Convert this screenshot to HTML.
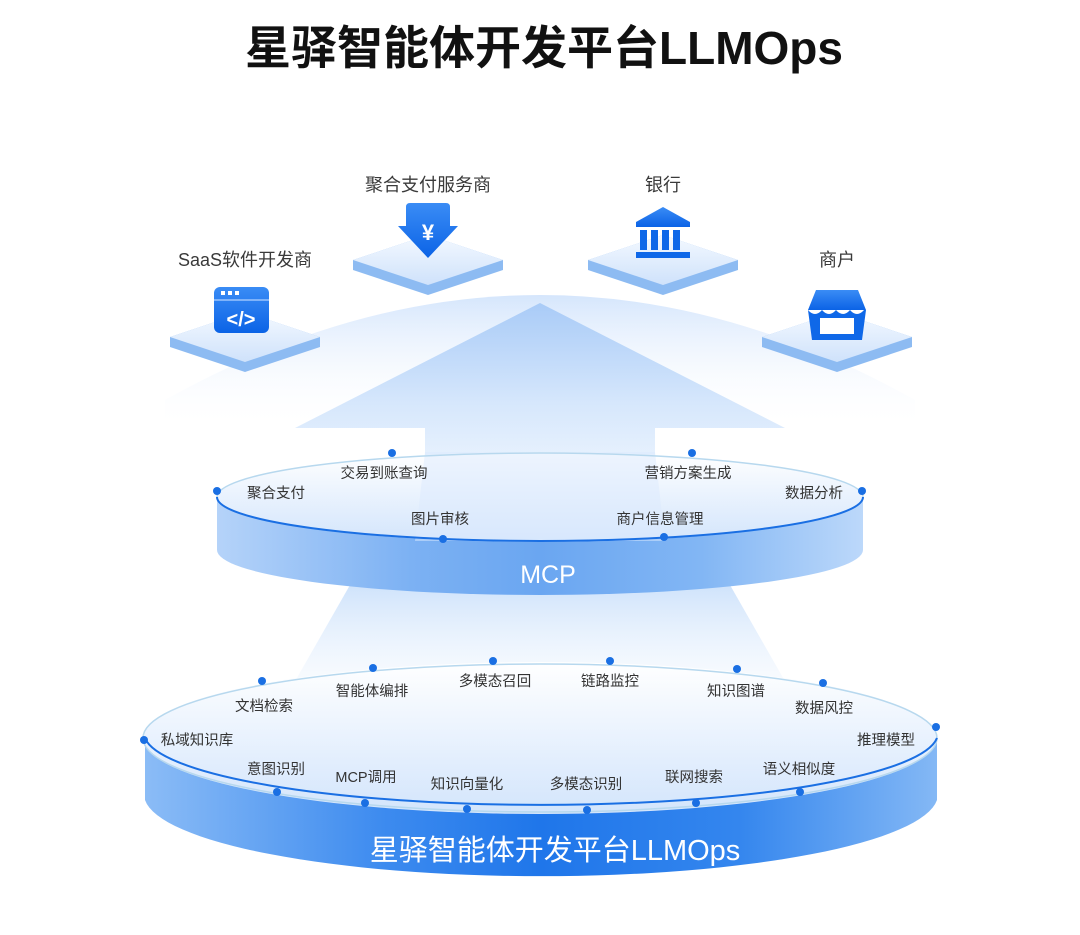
<!DOCTYPE html>
<html><head><meta charset="utf-8"><style>
html,body{margin:0;padding:0;background:#fff;}
svg{display:block;}
text{font-family:"Liberation Sans","Noto Sans CJK SC",sans-serif;}
</style></head><body>
<svg width="1080" height="935" viewBox="0 0 1080 935" xmlns="http://www.w3.org/2000/svg">
<defs>
<linearGradient id="fan" x1="0" y1="0" x2="0" y2="1">
<stop offset="0" stop-color="#c3dbfb"/><stop offset="1" stop-color="#ffffff" stop-opacity="0"/></linearGradient>
<linearGradient id="arrow" x1="0" y1="0" x2="0" y2="1">
<stop offset="0" stop-color="#a9cbf7"/><stop offset="0.6" stop-color="#d6e7fc"/><stop offset="1" stop-color="#eaf3fe"/></linearGradient>
<linearGradient id="side1" x1="0" y1="0" x2="1" y2="0">
<stop offset="0" stop-color="#b5d3f9"/><stop offset="0.3" stop-color="#7cb1f3"/><stop offset="0.5" stop-color="#6aa6f1"/><stop offset="0.75" stop-color="#82b6f4"/><stop offset="1" stop-color="#bcd8fa"/></linearGradient>
<linearGradient id="side2" x1="0" y1="0" x2="1" y2="0">
<stop offset="0" stop-color="#8bbcf6"/><stop offset="0.3" stop-color="#3d8bef"/><stop offset="0.5" stop-color="#1f76ea"/><stop offset="0.75" stop-color="#3486ee"/><stop offset="1" stop-color="#84b8f5"/></linearGradient>
<linearGradient id="top" x1="0" y1="0" x2="0" y2="1">
<stop offset="0" stop-color="#ffffff"/><stop offset="1" stop-color="#d3e5fc"/></linearGradient>
<linearGradient id="mid" x1="0" y1="0" x2="0" y2="1">
<stop offset="0" stop-color="#cfe3fb"/><stop offset="1" stop-color="#eef5fe" stop-opacity="0.3"/></linearGradient>
<linearGradient id="tileTop" x1="0" y1="0" x2="0" y2="1">
<stop offset="0" stop-color="#f4f9ff"/><stop offset="1" stop-color="#cfe2fb"/></linearGradient>
<linearGradient id="icon" x1="0" y1="0" x2="0" y2="1">
<stop offset="0" stop-color="#3a8cf5"/><stop offset="1" stop-color="#0b63e6"/></linearGradient>
</defs>

<text x="544" y="64" text-anchor="middle" font-size="46" font-weight="bold" fill="#111">星驿智能体开发平台LLMOps</text>

<path d="M165 400 Q540 190 915 400 L915 430 L165 430 Z" fill="url(#fan)" opacity="0.7"/>

<path d="M540 303 L785 428 L655 428 L655 470 L425 470 L425 428 L295 428 Z" fill="url(#arrow)"/>

<path d="M170 337 L245 312 L320 337 L320 347 L245 372 L170 347 Z" fill="#8dbbf2"/>
<path d="M170 337 L245 312 L320 337 L245 362 Z" fill="url(#tileTop)"/>
<path d="M353 260 L428 235 L503 260 L503 270 L428 295 L353 270 Z" fill="#8dbbf2"/>
<path d="M353 260 L428 235 L503 260 L428 285 Z" fill="url(#tileTop)"/>
<path d="M588 260 L663 235 L738 260 L738 270 L663 295 L588 270 Z" fill="#8dbbf2"/>
<path d="M588 260 L663 235 L738 260 L663 285 Z" fill="url(#tileTop)"/>
<path d="M762 337 L837 312 L912 337 L912 347 L837 372 L762 347 Z" fill="#8dbbf2"/>
<path d="M762 337 L837 312 L912 337 L837 362 Z" fill="url(#tileTop)"/>

<rect x="214" y="287" width="55" height="46" rx="6" fill="url(#icon)"/>
<rect x="214" y="299" width="55" height="2" fill="#7fb3fa"/>
<rect x="221" y="291" width="4" height="4" fill="#fff"/><rect x="228" y="291" width="4" height="4" fill="#fff"/><rect x="235" y="291" width="4" height="4" fill="#fff"/>
<text x="241" y="326" text-anchor="middle" font-size="20" font-weight="bold" fill="#fff">&lt;/&gt;</text>
<path d="M410 203 L446 203 Q450 203 450 207 L450 226 L458 226 L428 258 L398 226 L406 226 L406 207 Q406 203 410 203 Z" fill="url(#icon)"/>
<text x="428" y="240" text-anchor="middle" font-size="22" font-weight="bold" fill="#fff">¥</text>
<path d="M663 207 L690 222 L690 227 L636 227 L636 222 Z" fill="url(#icon)"/>
<rect x="640" y="230" width="7" height="20" fill="#0f68e8"/><rect x="651" y="230" width="7" height="20" fill="#0f68e8"/><rect x="662" y="230" width="7" height="20" fill="#0f68e8"/><rect x="673" y="230" width="7" height="20" fill="#0f68e8"/>
<rect x="636" y="252" width="54" height="6" fill="#0f68e8"/>
<path d="M816 290 L858 290 L866 310 L808 310 Z" fill="url(#icon)"/>
<path d="M808 310 Q815 318 822 310 Q829 318 836 310 Q843 318 850 310 Q857 318 864 310 L866 310 L862 340 L812 340 Z" fill="#0f68e8"/>
<rect x="820" y="318" width="34" height="16" fill="#fff"/>

<g font-size="18" fill="#3a3a3a" text-anchor="middle">
<text x="245" y="266">SaaS软件开发商</text>
<text x="428" y="191">聚合支付服务商</text>
<text x="663" y="191">银行</text>
<text x="837" y="266">商户</text>
</g>

<path d="M350 585 L730 585 L790 690 L290 690 Z" fill="url(#mid)"/>

<path d="M217 500 L217 550 A323 45 0 0 0 863 550 L863 500 Z" fill="url(#side1)"/>
<ellipse cx="540" cy="497" rx="323" ry="45" fill="url(#top)"/>
<path d="M425 452 L655 452 L665 541 L415 541 Z" fill="#dbeafd" opacity="0.5"/>
<ellipse cx="540" cy="497" rx="323" ry="44" fill="none" stroke="#b7d8ee" stroke-width="1.5"/>
<path d="M217 497 A323 44 0 0 0 863 497" fill="none" stroke="#1a6fe3" stroke-width="2"/>
<text x="548" y="583" text-anchor="middle" font-size="25" fill="#fff">MCP</text>
<g fill="#1a6fe3">
<circle cx="217" cy="491" r="4"/><circle cx="392" cy="453" r="4"/><circle cx="443" cy="539" r="4"/><circle cx="664" cy="537" r="4"/><circle cx="692" cy="453" r="4"/><circle cx="862" cy="491" r="4"/>
</g>
<g font-size="14.5" fill="#333" text-anchor="middle">
<text x="276" y="498">聚合支付</text><text x="384" y="478">交易到账查询</text><text x="440" y="524">图片审核</text>
<text x="688" y="478">营销方案生成</text><text x="814" y="498">数据分析</text><text x="660" y="524">商户信息管理</text>
</g>

<path d="M145 740 L145 800 A397 82 0 0 0 937 800 L937 740 Z" fill="url(#side2)"/>
<ellipse cx="540" cy="738" rx="397" ry="76" fill="url(#top)"/>
<ellipse cx="540" cy="738" rx="397" ry="74" fill="none" stroke="#b7d8ee" stroke-width="1.5"/>
<path d="M145 738 A397 72 0 0 0 937 738" fill="none" stroke="#1a6fe3" stroke-width="2"/>
<text x="555" y="860" text-anchor="middle" font-size="29" fill="#fff">星驿智能体开发平台LLMOps</text>
<g fill="#1a6fe3">
<circle cx="144" cy="740" r="4"/><circle cx="262" cy="681" r="4"/><circle cx="373" cy="668" r="4"/><circle cx="493" cy="661" r="4"/><circle cx="610" cy="661" r="4"/><circle cx="737" cy="669" r="4"/><circle cx="823" cy="683" r="4"/><circle cx="936" cy="727" r="4"/>
<circle cx="277" cy="792" r="4"/><circle cx="365" cy="803" r="4"/><circle cx="467" cy="809" r="4"/><circle cx="587" cy="810" r="4"/><circle cx="696" cy="803" r="4"/><circle cx="800" cy="792" r="4"/>
</g>
<g font-size="14.5" fill="#333" text-anchor="middle">
<text x="197" y="745">私域知识库</text><text x="264" y="711">文档检索</text><text x="372" y="696">智能体编排</text><text x="495" y="686">多模态召回</text>
<text x="610" y="686">链路监控</text><text x="736" y="696">知识图谱</text><text x="824" y="713">数据风控</text><text x="886" y="745">推理模型</text>
<text x="276" y="774">意图识别</text><text x="366" y="782">MCP调用</text><text x="467" y="789">知识向量化</text><text x="586" y="789">多模态识别</text>
<text x="694" y="782">联网搜索</text><text x="799" y="774">语义相似度</text>
</g>
</svg>
</body></html>
